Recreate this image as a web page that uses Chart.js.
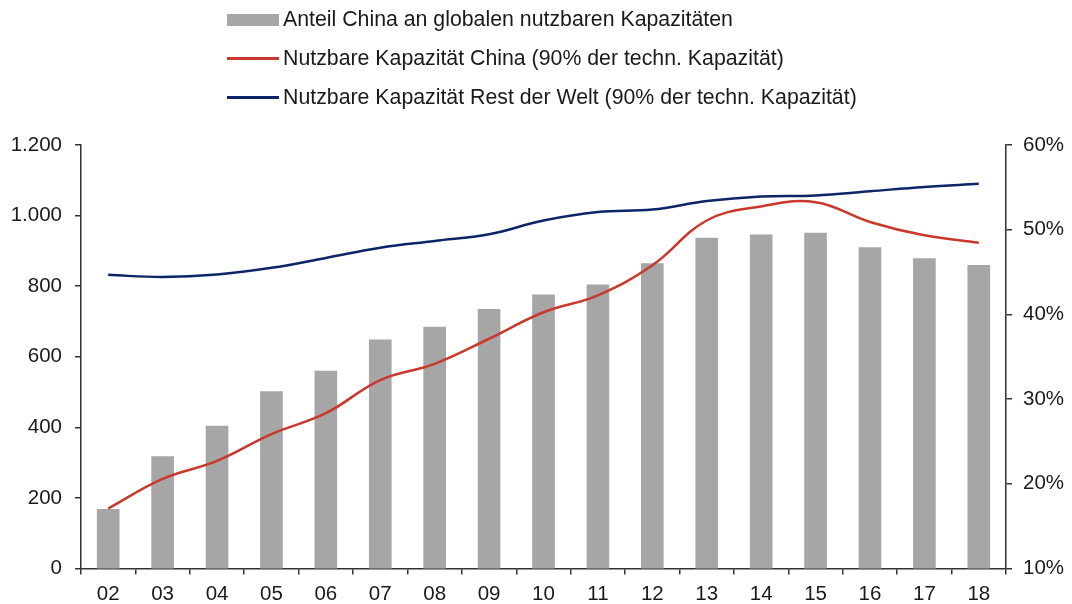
<!DOCTYPE html>
<html>
<head>
<meta charset="utf-8">
<script src="https://cdn.jsdelivr.net/npm/chart.js@4"></script>
<style>
  html, body { margin: 0; padding: 0; background: #fff; }
  #wrap { position: relative; width: 1072px; height: 604px; }
  #legend { position: absolute; left: 227px; top: 0px; font-family: "Liberation Sans", Arial, sans-serif; font-size: 21.3px; color: #1a1a1a; }
  .item { height: 39px; display: flex; align-items: center; }
  .sw { width: 52px; margin-right: 4px; }
  .bar { height: 12px; background: #a6a6a6; }
  .ln { height: 3px; }
</style>
</head>
<body>
<div id="wrap">
  <canvas id="capChart" width="1072" height="604"></canvas>
  <div id="legend">
    <div class="item"><span class="sw bar"></span>Anteil China an globalen nutzbaren Kapazitäten</div>
    <div class="item"><span class="sw ln" style="background:#c9382a"></span>Nutzbare Kapazität China (90% der techn. Kapazität)</div>
    <div class="item"><span class="sw ln" style="background:#0b2566"></span>Nutzbare Kapazität Rest der Welt (90% der techn. Kapazität)</div>
  </div>
</div>
<script>
const years = ['02', '03', '04', '05', '06', '07', '08', '09', '10', '11', '12', '13', '14', '15', '16', '17', '18'];
// share of China in global usable capacity, % (right axis)
const shareChina = [17.0, 23.2, 26.8, 30.9, 33.3, 37.0, 38.5, 40.6, 42.3, 43.5, 46.0, 49.0, 49.4, 49.6, 47.9, 46.6, 45.8];
// usable capacity China (left axis)
const capChina = [170, 254, 305, 381, 440, 534, 580, 651, 726, 774, 859, 986, 1026, 1038, 982, 944, 923];
// usable capacity rest of world (left axis)
const capRest = [832, 826, 833, 852, 880, 909, 928, 947, 986, 1010, 1017, 1041, 1054, 1057, 1069, 1081, 1090];

const leftTicks = [0, 200, 400, 600, 800, 1000, 1200];
const rightTicks = [10, 20, 30, 40, 50, 60];

const fontSpec = { family: '"Liberation Sans", Arial, sans-serif', size: 20.5 };
const axisColor = '#333333';

const ctx = document.getElementById('capChart').getContext('2d');
new Chart(ctx, {
  data: {
    labels: years,
    datasets: [
      {
        type: 'line',
        label: 'Nutzbare Kapazität China (90% der techn. Kapazität)',
        data: capChina,
        yAxisID: 'y',
        borderColor: '#c9382a',
        borderWidth: 2.5,
        pointRadius: 0,
        tension: 0.4,
        order: 1,
      },
      {
        type: 'line',
        label: 'Nutzbare Kapazität Rest der Welt (90% der techn. Kapazität)',
        data: capRest,
        yAxisID: 'y',
        borderColor: '#0b2566',
        borderWidth: 2.5,
        pointRadius: 0,
        tension: 0.4,
        order: 1,
      },
      {
        type: 'bar',
        label: 'Anteil China an globalen nutzbaren Kapazitäten',
        data: shareChina,
        yAxisID: 'y1',
        backgroundColor: '#a6a6a6',
        barThickness: 22,
        order: 2,
      },
    ],
  },
  options: {
    responsive: false,
    animation: false,
    layout: { padding: { top: 145, left: 0, right: 0, bottom: 0 } },
    plugins: {
      legend: { display: false },
      tooltip: { enabled: false },
    },
    scales: {
      x: {
        offset: true,
        grid: { offset: true, drawOnChartArea: false, drawTicks: true, tickLength: 6, color: axisColor, lineWidth: 1.5 },
        border: { color: axisColor, width: 1.5 },
        ticks: { color: '#1a1a1a', font: fontSpec, padding: 8, maxRotation: 0 },
        afterFit: (s) => { s.height = 35.5; },
      },
      y: {
        position: 'left',
        min: 0,
        max: 1200,
        afterBuildTicks: (s) => { s.ticks = leftTicks.map((v) => ({ value: v })); },
        grid: { drawOnChartArea: false, tickLength: 6, color: axisColor, lineWidth: 1.5 },
        border: { color: axisColor, width: 1.5 },
        ticks: {
          color: '#1a1a1a',
          font: fontSpec,
          padding: 13,
          callback: (v) => v.toLocaleString('de-DE'),
        },
        afterFit: (s) => { s.width = 81; },
      },
      y1: {
        position: 'right',
        min: 10,
        max: 60,
        afterBuildTicks: (s) => { s.ticks = rightTicks.map((v) => ({ value: v })); },
        grid: { drawOnChartArea: false, tickLength: 6, color: axisColor, lineWidth: 1.5 },
        border: { color: axisColor, width: 1.5 },
        ticks: {
          color: '#1a1a1a',
          font: fontSpec,
          padding: 11,
          callback: (v) => v + '%',
        },
        afterFit: (s) => { s.width = 66; },
      },
    },
  },
});
</script>
</body>
</html>
